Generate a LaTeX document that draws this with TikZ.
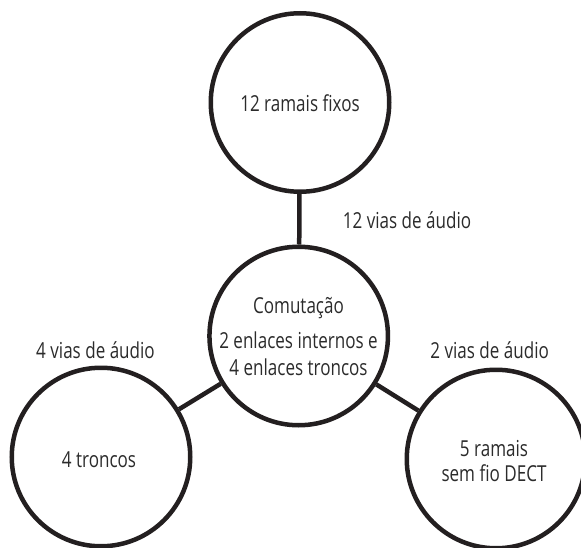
\documentclass[tikz,border=0pt]{standalone}
\usepackage{fontspec}
\setmainfont[FakeStretch=0.775]{Open Sans}
\definecolor{ink}{HTML}{231F20}
\definecolor{txt}{HTML}{2B2B2B}
\begin{document}
\begin{tikzpicture}[x=1pt,y=-1pt,
  unit/.style={circle,draw=ink,line width=4.5pt,minimum size=178.5pt,inner sep=0pt},
  lbl/.style={anchor=base,inner sep=0pt,text=txt,font=\fontsize{22}{26}\selectfont},
  link/.style={draw=ink,line width=4.5pt}]
\useasboundingbox (0,0) rectangle (581,548);
\node[unit] (top) at (300,102.5) {};
\node[unit] (hub) at (298.7,336) {};
\node[unit] (left) at (101,457) {};
\node[unit] (right) at (496,459) {};
\draw[link] (top) -- (hub);
\draw[link] (hub) -- (left);
\draw[link] (hub) -- (right);
\node[lbl] (t1) at (300,111.7) {12 ramais fixos};
\node[lbl] (t2) at (407,228.3) {12 vias de áudio};
\node[lbl] (t3) at (298.5,313.3) {Comutação};
\node[lbl] (t4) at (298.5,348.3) {2 enlaces internos e};
\node[lbl] (t5) at (298.5,375) {4 enlaces troncos};
\node[lbl] (t6) at (95.5,358.3) {4 vias de áudio};
\node[lbl] (t7) at (489.6,358.3) {2 vias de áudio};
\node[lbl] (t8) at (99,467.3) {4 troncos};
\node[lbl] (t9) at (494,456.7) {5 ramais};
\node[lbl] (t10) at (494,481.7) {sem fio DECT};
\end{tikzpicture}
\end{document}
